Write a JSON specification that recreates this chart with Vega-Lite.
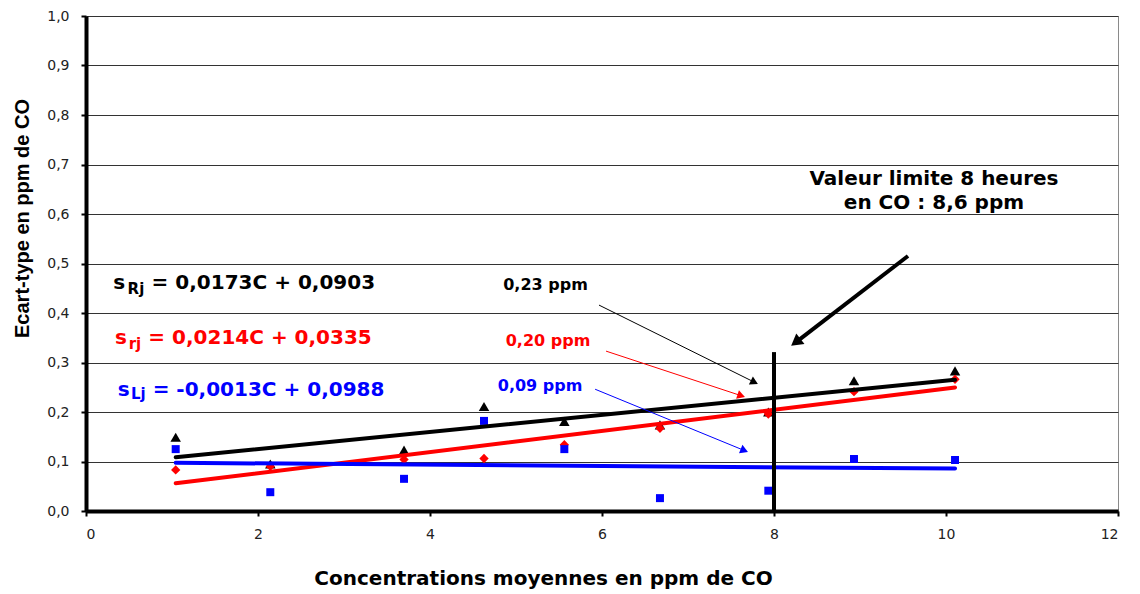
{
  "$schema": "https://vega.github.io/schema/vega-lite/v6.json",
  "width": 1032,
  "height": 495,
  "autosize": {"type": "none"},
  "padding": {"left": 86, "top": 16, "right": 22, "bottom": 83},
  "background": "white",
  "config": {
    "view": {"stroke": "#8a8a8a", "strokeWidth": 1},
    "axis": {"labelColor": "#222222", "titleColor": "#000000"}
  },
  "datasets": {
    "points": [
      {"series": "R", "x": 1.043, "y": 0.149},
      {"series": "R", "x": 2.143, "y": 0.095},
      {"series": "R", "x": 3.698, "y": 0.123},
      {"series": "R", "x": 4.628, "y": 0.211},
      {"series": "R", "x": 5.562, "y": 0.181},
      {"series": "R", "x": 6.674, "y": 0.174},
      {"series": "R", "x": 7.934, "y": 0.2},
      {"series": "R", "x": 8.93, "y": 0.263},
      {"series": "R", "x": 10.105, "y": 0.283},
      {"series": "r", "x": 1.043, "y": 0.083},
      {"series": "r", "x": 2.143, "y": 0.09},
      {"series": "r", "x": 3.698, "y": 0.104},
      {"series": "r", "x": 4.628, "y": 0.106},
      {"series": "r", "x": 5.562, "y": 0.134},
      {"series": "r", "x": 6.674, "y": 0.167},
      {"series": "r", "x": 7.934, "y": 0.196},
      {"series": "r", "x": 8.93, "y": 0.241},
      {"series": "r", "x": 10.105, "y": 0.266},
      {"series": "L", "x": 1.043, "y": 0.125},
      {"series": "L", "x": 2.143, "y": 0.038},
      {"series": "L", "x": 3.698, "y": 0.065},
      {"series": "L", "x": 4.628, "y": 0.182},
      {"series": "L", "x": 5.562, "y": 0.125},
      {"series": "L", "x": 6.674, "y": 0.026},
      {"series": "L", "x": 7.934, "y": 0.041},
      {"series": "L", "x": 8.93, "y": 0.105},
      {"series": "L", "x": 10.105, "y": 0.103}
    ],
    "fits": [
      {"series": "R", "x": 1.043, "y": 0.1085},
      {"series": "R", "x": 10.105, "y": 0.265},
      {"series": "r", "x": 1.043, "y": 0.056},
      {"series": "r", "x": 10.105, "y": 0.2496},
      {"series": "L", "x": 1.043, "y": 0.0974},
      {"series": "L", "x": 10.105, "y": 0.0857}
    ],
    "limitLine": [{"series": "lim", "x": 8, "y": 0, "y2": 0.321}],
    "arrows": [
      {"series": "R", "x": 5.965, "y": 0.416, "x2": 7.772, "y2": 0.2602},
      {"series": "r", "x": 6.047, "y": 0.323, "x2": 7.619, "y2": 0.2329},
      {"series": "L", "x": 5.92, "y": 0.246, "x2": 7.655, "y2": 0.1222}
    ],
    "heads": [
      {"series": "R", "x": 7.772, "y": 0.2602, "angle": 116.4},
      {"series": "r", "x": 7.619, "y": 0.2329, "angle": 108.3},
      {"series": "L", "x": 7.655, "y": 0.1222, "angle": 112.4}
    ],
    "bigArrow": [{"series": "lim", "x": 9.558, "y": 0.5152, "x2": 8.253, "y2": 0.3408}],
    "bigHead": [{"series": "lim", "x": 8.253, "y": 0.3408, "angle": 232.4}],
    "eqS": [
      {"series": "R", "x": 0.318, "y": 0.4485, "t": "s"},
      {"series": "r", "x": 0.337, "y": 0.337, "t": "s"},
      {"series": "L", "x": 0.368, "y": 0.233, "t": "s"}
    ],
    "eqSub": [
      {"series": "R", "x": 0.484, "y": 0.4377, "t": "Rj"},
      {"series": "r", "x": 0.496, "y": 0.3266, "t": "rj"},
      {"series": "L", "x": 0.523, "y": 0.2257, "t": "Lj"}
    ],
    "eqRest": [
      {"series": "R", "x": 0.763, "y": 0.4485, "t": "= 0,0173C + 0,0903"},
      {"series": "r", "x": 0.725, "y": 0.337, "t": "= 0,0214C + 0,0335"},
      {"series": "L", "x": 0.775, "y": 0.233, "t": "= -0,0013C + 0,0988"}
    ],
    "ppm": [
      {"series": "R", "x": 5.343, "y": 0.4566, "t": "0,23 ppm"},
      {"series": "r", "x": 5.372, "y": 0.343, "t": "0,20 ppm"},
      {"series": "L", "x": 5.28, "y": 0.2525, "t": "0,09 ppm"}
    ],
    "limitText": [
      {"series": "lim", "x": 9.86, "y": 0.6586, "t": "Valeur limite 8 heures\nen CO : 8,6 ppm"}
    ]
  },
  "encoding": {
    "x": {
      "field": "x",
      "type": "quantitative",
      "scale": {"domain": [0, 12], "nice": false, "zero": false},
      "axis": {
        "values": [0, 2, 4, 6, 8, 10, 12],
        "grid": false,
        "domainColor": "#000000",
        "domainWidth": 4,
        "tickColor": "#000000",
        "tickWidth": 2,
        "tickSize": 5,
        "labelFont": "DejaVu Sans",
        "labelFontSize": 14,
        "labelPadding": 11,
        "title": "Concentrations moyennes en ppm de CO",
        "titleFont": "DejaVu Sans",
        "titleFontSize": 20,
        "titleFontWeight": "bold",
        "titleX": 457,
        "titleY": 67,
        "titleAlign": "center",
        "titleBaseline": "middle"
      }
    },
    "y": {
      "field": "y",
      "type": "quantitative",
      "scale": {"domain": [0, 1], "nice": false, "zero": false},
      "axis": {
        "values": [0, 0.1, 0.2, 0.3, 0.4, 0.5, 0.6, 0.7, 0.8, 0.9, 1.0],
        "labelExpr": "replace(format(datum.value, '.1f'), '.', ',')",
        "grid": true,
        "gridColor": "#333333",
        "gridWidth": 1,
        "domainColor": "#000000",
        "domainWidth": 4,
        "tickColor": "#000000",
        "tickWidth": 2,
        "tickSize": 5,
        "labelFont": "DejaVu Sans",
        "labelFontSize": 14,
        "labelPadding": 12,
        "title": "Ecart-type en ppm de CO",
        "titleFont": "Liberation Sans",
        "titleFontSize": 20,
        "titleFontWeight": "bold",
        "titleX": -64,
        "titleY": 202,
        "titleAlign": "center",
        "titleBaseline": "middle"
      }
    }
  },
  "layer": [
    {
      "data": {"name": "points"},
      "mark": {"type": "point", "filled": true, "opacity": 1},
      "encoding": {
        "color": {"field": "series", "type": "nominal", "scale": {"domain": ["R", "r", "L", "lim"], "range": ["#000000", "#ff0000", "#0000ff", "#000000"]}, "legend": null},
        "shape": {"field": "series", "type": "nominal", "scale": {"domain": ["R", "r", "L"], "range": ["triangle-up", "diamond", "square"]}, "legend": null},
        "size": {"field": "series", "type": "nominal", "scale": {"domain": ["R", "r", "L"], "range": [110, 64, 81]}, "legend": null}
      }
    },
    {
      "data": {"name": "fits"},
      "mark": {"type": "line", "strokeWidth": 4, "strokeCap": "round"},
      "encoding": {
        "color": {"field": "series", "type": "nominal", "legend": null}
      }
    },
    {
      "data": {"name": "limitLine"},
      "mark": {"type": "rule", "strokeWidth": 4},
      "encoding": {
        "y2": {"field": "y2"},
        "color": {"field": "series", "type": "nominal", "legend": null}
      }
    },
    {
      "data": {"name": "arrows"},
      "mark": {"type": "rule", "strokeWidth": 1},
      "encoding": {
        "x2": {"field": "x2"},
        "y2": {"field": "y2"},
        "color": {"field": "series", "type": "nominal", "legend": null}
      }
    },
    {
      "data": {"name": "heads"},
      "mark": {"type": "point", "shape": "triangle-up", "filled": true, "opacity": 1, "size": 81},
      "encoding": {
        "angle": {"field": "angle", "type": "quantitative", "scale": null},
        "color": {"field": "series", "type": "nominal", "legend": null}
      }
    },
    {
      "data": {"name": "bigArrow"},
      "mark": {"type": "rule", "strokeWidth": 4},
      "encoding": {
        "x2": {"field": "x2"},
        "y2": {"field": "y2"},
        "color": {"field": "series", "type": "nominal", "legend": null}
      }
    },
    {
      "data": {"name": "bigHead"},
      "mark": {"type": "point", "shape": "triangle-up", "filled": true, "opacity": 1, "size": 180},
      "encoding": {
        "angle": {"field": "angle", "type": "quantitative", "scale": null},
        "color": {"field": "series", "type": "nominal", "legend": null}
      }
    },
    {
      "data": {"name": "eqS"},
      "mark": {"type": "text", "font": "DejaVu Sans", "fontSize": 20, "fontWeight": "bold", "align": "left", "baseline": "alphabetic"},
      "encoding": {
        "text": {"field": "t"},
        "color": {"field": "series", "type": "nominal", "legend": null}
      }
    },
    {
      "data": {"name": "eqSub"},
      "mark": {"type": "text", "font": "DejaVu Sans", "fontSize": 15, "fontWeight": "bold", "align": "left", "baseline": "alphabetic"},
      "encoding": {
        "text": {"field": "t"},
        "color": {"field": "series", "type": "nominal", "legend": null}
      }
    },
    {
      "data": {"name": "eqRest"},
      "mark": {"type": "text", "font": "DejaVu Sans", "fontSize": 20, "fontWeight": "bold", "align": "left", "baseline": "alphabetic"},
      "encoding": {
        "text": {"field": "t"},
        "color": {"field": "series", "type": "nominal", "legend": null}
      }
    },
    {
      "data": {"name": "ppm"},
      "mark": {"type": "text", "font": "DejaVu Sans", "fontSize": 16, "fontWeight": "bold", "align": "center", "baseline": "middle"},
      "encoding": {
        "text": {"field": "t"},
        "color": {"field": "series", "type": "nominal", "legend": null}
      }
    },
    {
      "data": {"name": "limitText"},
      "mark": {"type": "text", "font": "DejaVu Sans", "fontSize": 20, "fontWeight": "bold", "align": "center", "baseline": "alphabetic", "lineBreak": "\n", "lineHeight": 24},
      "encoding": {
        "text": {"field": "t"},
        "color": {"field": "series", "type": "nominal", "legend": null}
      }
    }
  ]
}
